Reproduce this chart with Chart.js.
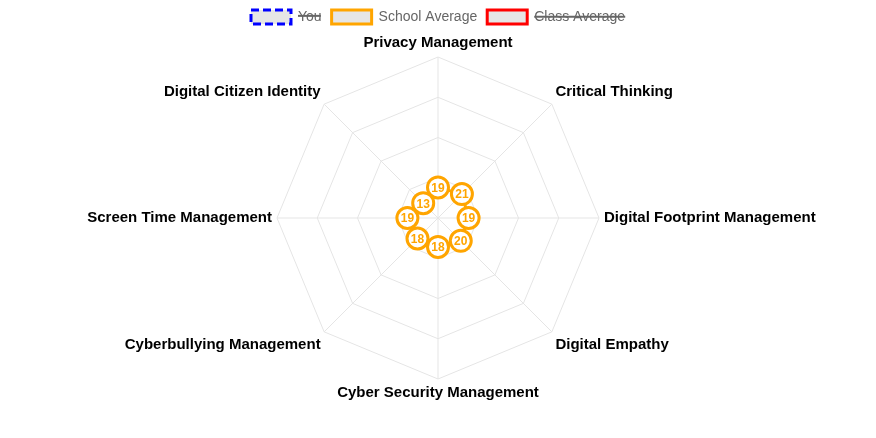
<!DOCTYPE html>
<html><head><meta charset="utf-8">
<script src="https://cdn.jsdelivr.net/npm/chart.js@4"></script>
<style>html,body{margin:0;padding:0;background:#fff}#wrap{width:876px;height:438px}</style>
</head><body><div id="wrap"><canvas id="c" width="876" height="438"></canvas></div>
<script>
const categories = ["Privacy Management","Critical Thinking","Digital Footprint Management","Digital Empathy","Cyber Security Management","Cyberbullying Management","Screen Time Management","Digital Citizen Identity"];
const youValues = [0,0,0,0,0,0,0,0];
const schoolValues = [19,21,19,20,18,18,19,13];
const classValues = [0,0,0,0,0,0,0,0];

const valueLabels = {
  id: 'valueLabels',
  afterDatasetsDraw(chart) {
    const ctx = chart.ctx;
    chart.data.datasets.forEach((ds, i) => {
      const meta = chart.getDatasetMeta(i);
      if (meta.hidden || !chart.isDatasetVisible(i)) return;
      meta.data.forEach((pt, j) => {
        ctx.save();
        ctx.font = 'bold 12px "Liberation Sans", Arial, sans-serif';
        ctx.fillStyle = ds.borderColor;
        ctx.textAlign = 'center';
        ctx.textBaseline = 'middle';
        ctx.fillText(String(ds.data[j]), pt.x, pt.y + 1);
        ctx.restore();
      });
    });
  }
};

new Chart(document.getElementById('c'), {
  type: 'radar',
  data: {
    labels: categories,
    datasets: [
      { label: 'You', data: youValues, hidden: true, borderColor: 'blue', backgroundColor: 'rgba(230,230,230,1)', borderDash: [8,4], borderWidth: 3, pointRadius: 10.5, pointBackgroundColor: '#fff', pointBorderWidth: 3 },
      { label: 'School Average', data: schoolValues, borderColor: 'orange', backgroundColor: 'rgba(230,230,230,1)', fill: false, borderWidth: 3, pointRadius: 10.5, pointHoverRadius: 10.5, pointBackgroundColor: '#fff', pointBorderColor: 'orange', pointBorderWidth: 3 },
      { label: 'Class Average', data: classValues, hidden: true, borderColor: 'red', backgroundColor: 'rgba(230,230,230,1)', borderWidth: 3, pointRadius: 10.5, pointBackgroundColor: '#fff', pointBorderWidth: 3 }
    ]
  },
  options: {
    responsive: false,
    animation: false,
    layout: { padding: { top: 0, bottom: 36 } },
    plugins: {
      legend: { position: 'top', labels: { boxWidth: 40, boxHeight: 14, font: { size: 14, family: '"Liberation Sans", Arial, sans-serif' }, color: '#666', padding: 10 } },
      tooltip: { enabled: false }
    },
    scales: {
      r: {
        min: 0, max: 100,
        ticks: { display: false, stepSize: 25 },
        grid: { color: '#e5e5e5' },
        angleLines: { color: '#e5e5e5' },
        pointLabels: { font: { size: 15, weight: 'bold', family: '"Liberation Sans", Arial, sans-serif' }, color: '#000' }
      }
    }
  },
  plugins: [valueLabels]
});
</script></body></html>
